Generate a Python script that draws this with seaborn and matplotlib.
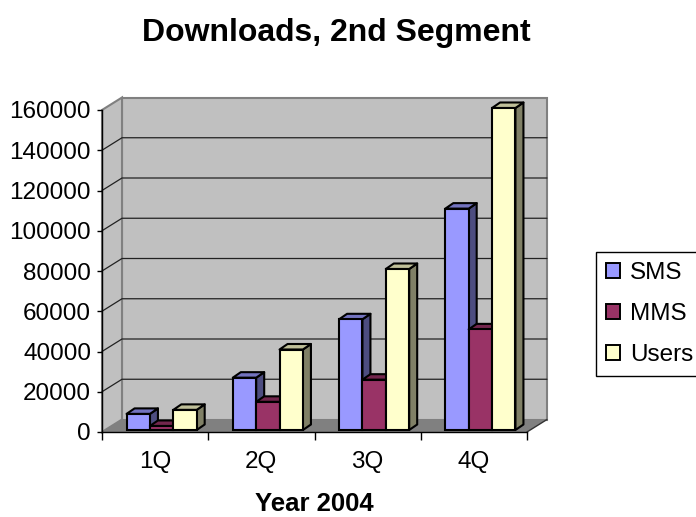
import matplotlib
matplotlib.use("Agg")
import matplotlib.pyplot as plt
import matplotlib.transforms as mtransforms
from matplotlib.colors import to_rgb
from matplotlib.patches import Polygon, Patch
from matplotlib.ticker import NullLocator
import pandas as pd
import seaborn as sns

# ---- data -------------------------------------------------------------
quarters = ["1Q", "2Q", "3Q", "4Q"]
series = ["SMS", "MMS", "Users"]
sms = [8000, 26000, 55000, 110000]
mms = [2000, 14000, 25000, 50000]
users = [10000, 40000, 80000, 160000]
colors = ["#9999FF", "#993366", "#FFFFCC"]
yticks = [0, 20000, 40000, 60000, 80000, 100000, 120000, 140000, 160000]

df = pd.DataFrame({
    "Quarter": quarters * 3,
    "Series": [s for s in series for _ in quarters],
    "Value": sms + mms + users,
})

# ---- style ------------------------------------------------------------
sns.set_style("white")
plt.rcParams["font.family"] = ["Liberation Sans", "DejaVu Sans"]
plt.rcParams["text.color"] = "black"
plt.rcParams["axes.labelcolor"] = "black"
plt.rcParams["xtick.color"] = "black"
plt.rcParams["ytick.color"] = "black"

W, H = 696, 517
fig = plt.figure(figsize=(W / 100, H / 100), dpi=100)
fig.patch.set_facecolor("white")

# front plane of the plot, in pixels
L, R, B, T = 102, 527, 432, 110
ax = fig.add_axes([L / W, 1 - B / H, (R - L) / W, (B - T) / H])
ax.set_facecolor("none")

sns.barplot(data=df, x="Quarter", y="Value", hue="Series", order=quarters,
            hue_order=series, palette=colors, saturation=1, width=0.66,
            edgecolor="black", linewidth=1.5, errorbar=None, legend=False,
            ax=ax)
bars = sorted(ax.patches, key=lambda p: p.get_x())

XMIN, XMAX, YMAX = -0.5, 3.5, yticks[-1]
ax.set_xlim(XMIN, XMAX)
ax.set_ylim(0, YMAX)
px_x = (R - L) / (XMAX - XMIN)
px_y = (B - T) / YMAX


def units(dx_px, dy_px):
    return dx_px / px_x, dy_px / px_y


wall_dx, wall_dy = units(20, 12.5)
bar_dx, bar_dy = units(8, 5.5)

# ---- walls and floor --------------------------------------------------
wall_kw = dict(facecolor="#C0C0C0", edgecolor="#808080", lw=1.5,
               clip_on=False, zorder=0.5)
ax.add_patch(Polygon([(XMIN + wall_dx, wall_dy), (XMAX + wall_dx, wall_dy),
                      (XMAX + wall_dx, YMAX + wall_dy),
                      (XMIN + wall_dx, YMAX + wall_dy)], **wall_kw))
ax.add_patch(Polygon([(XMIN, 0), (XMIN, YMAX), (XMIN + wall_dx, YMAX + wall_dy),
                      (XMIN + wall_dx, wall_dy)], **wall_kw))
for v in yticks[1:-1]:
    ax.plot([XMIN, XMIN + wall_dx, XMAX + wall_dx], [v, v + wall_dy, v + wall_dy],
            color="#222222", lw=0.9, zorder=0.8, clip_on=False)
ax.add_patch(Polygon([(XMIN, 0), (XMAX, 0), (XMAX + wall_dx, wall_dy),
                      (XMIN + wall_dx, wall_dy)], facecolor="#808080",
                     edgecolor="none", clip_on=False, zorder=1))
ax.plot([XMAX, XMAX + wall_dx], [0, wall_dy], color="#333333", lw=1,
        clip_on=False, zorder=1.1)

# ---- 3D bar faces -----------------------------------------------------
bar_tr = ax.transData + mtransforms.Affine2D().translate(6.5, 2)
for i, p in enumerate(bars):
    x0, w, h = p.get_x(), p.get_width(), p.get_height()
    base = to_rgb(p.get_facecolor())
    side_c = tuple(c * 0.5 for c in base)
    top_c = tuple(c * 0.75 for c in base)
    z = 3 + 3 * i
    side = Polygon([(x0 + w, 0), (x0 + w, h), (x0 + w + bar_dx, h + bar_dy),
                    (x0 + w + bar_dx, bar_dy)], facecolor=side_c,
                   edgecolor="black", lw=1.5, joinstyle="round",
                   transform=bar_tr, clip_on=False, zorder=z)
    top = Polygon([(x0, h), (x0 + w, h), (x0 + w + bar_dx, h + bar_dy),
                   (x0 + bar_dx, h + bar_dy)], facecolor=top_c,
                  edgecolor="black", lw=1.5, joinstyle="round",
                  transform=bar_tr, clip_on=False, zorder=z + 1)
    ax.add_patch(side)
    ax.add_patch(top)
    p.set_transform(bar_tr)
    p.set_clip_on(False)
    p.set_zorder(z + 2)

# ---- axes -------------------------------------------------------------
for s in ("top", "right"):
    ax.spines[s].set_visible(False)
for s in ("left", "bottom"):
    ax.spines[s].set_color("black")
    ax.spines[s].set_linewidth(1)
    ax.spines[s].set_zorder(2)

ax.set_yticks(yticks)
ax.set_yticklabels([str(v) for v in yticks])
ax.yaxis.set_minor_locator(NullLocator())
ax.tick_params(axis="y", left=True, length=3.6, width=1, pad=4.3,
               labelsize=17.5, direction="out")
ax.set_xticks(range(len(quarters)))
ax.set_xticklabels(quarters)
ax.set_xticks([XMIN + k for k in range(len(quarters) + 1)], minor=True)
ax.tick_params(axis="x", which="major", bottom=True, length=0, pad=13.5,
               labelsize=17.5)
ax.tick_params(axis="x", which="minor", bottom=True, length=5.8, width=1,
               direction="out")
ax.set_ylabel("")
ax.set_xlabel("Year 2004", fontsize=18.5, fontweight="bold", labelpad=14)

fig.text(336 / W, 1 - 41 / H, "Downloads, 2nd Segment", ha="center",
         va="baseline", fontsize=23, fontweight="bold")

# ---- legend -----------------------------------------------------------
handles = [Patch(facecolor=c, edgecolor="black", lw=1.4) for c in colors]
leg = fig.legend(handles, series, loc="upper left",
                 bbox_to_anchor=(596 / W, 1 - 252 / H), frameon=True,
                 fancybox=False, edgecolor="black", framealpha=1,
                 fontsize=17.5, handlelength=0.58, handleheight=0.58,
                 handletextpad=0.4, labelspacing=0.78, borderpad=0.42,
                 borderaxespad=0)
leg.get_frame().set_linewidth(1)

fig.savefig("out.png", dpi=100)
